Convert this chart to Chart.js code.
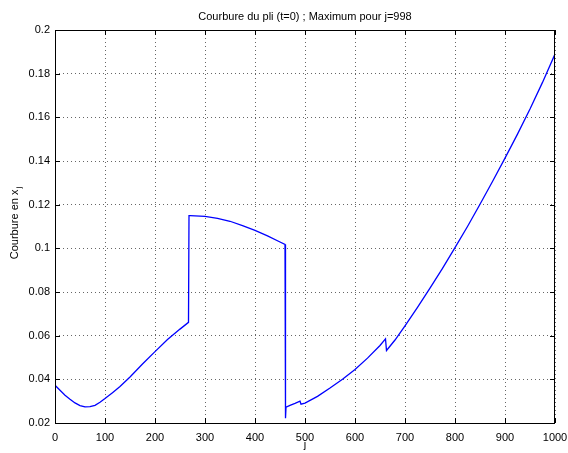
<!DOCTYPE html>
<html>
<head>
<meta charset="utf-8">
<script src="https://cdn.jsdelivr.net/npm/chart.js@4.4.0/dist/chart.umd.min.js"></script>
<style>
  html, body { margin: 0; padding: 0; background: #fff; }
  #wrap { width: 568px; height: 453px; position: relative; }
</style>
</head>
<body>
<div id="wrap"><canvas id="chart"></canvas></div>
<script>
// ── Data ──────────────────────────────────────────────────
const titleText = 'Courbure du pli (t=0) ; Maximum pour j=998';
const xLabel = 'j';
const yLabel = 'Courbure en x';
const yLabelSub = 'j';

const jValues = [
  0, 10, 20, 30, 40, 50, 60, 70, 80, 90, 100, 115, 130, 150, 175, 200, 225, 250, 267,
  268, 270, 300, 325, 350, 375, 400, 425, 450, 460,
  461, 462, 470, 480, 490, 492, 500, 525, 550, 575, 600, 625, 650, 661,
  663, 680, 700, 725, 750, 775, 800, 825, 850, 875, 900, 925, 950, 975, 1000
];
const courbure = [
  0.0373, 0.0350, 0.0327, 0.0309, 0.0292, 0.0280, 0.0274, 0.0275, 0.0281, 0.0295, 0.0312, 0.0339, 0.0367, 0.0411, 0.0470, 0.0527, 0.0582, 0.0630, 0.0661,
  0.1150, 0.1150, 0.1146, 0.1137, 0.1124, 0.1104, 0.1082, 0.1057, 0.1029, 0.1018,
  0.0222, 0.0272, 0.0281, 0.0290, 0.0300, 0.0286, 0.0291, 0.0322, 0.0360, 0.0400, 0.0445, 0.0497, 0.0555, 0.0585,
  0.0532, 0.0580, 0.0645, 0.0730, 0.0818, 0.0908, 0.1003, 0.1100, 0.1202, 0.1306, 0.1413, 0.1523, 0.1638, 0.1760, 0.1890
];

const xTicks = [0, 100, 200, 300, 400, 500, 600, 700, 800, 900, 1000];
const yTicks = [0.02, 0.04, 0.06, 0.08, 0.1, 0.12, 0.14, 0.16, 0.18, 0.2];

const FONT = 'Liberation Sans, Arial, Helvetica, sans-serif';

// ── MATLAB-like frame: box, inward ticks, labels ──────────
const matlabFrame = {
  id: 'matlabFrame',
  afterDraw(chart) {
    const { ctx, chartArea: a, scales } = chart;
    ctx.save();
    ctx.strokeStyle = '#000';
    ctx.lineWidth = 1;
    ctx.setLineDash([]);
    ctx.strokeRect(a.left + 0.5, a.top + 0.5, a.right - a.left - 1, a.bottom - a.top);

    const len = 5;
    ctx.beginPath();
    xTicks.forEach(v => {
      const px = Math.round(scales.x.getPixelForValue(v)) + 0.5;
      ctx.moveTo(px, a.bottom); ctx.lineTo(px, a.bottom - len);
      ctx.moveTo(px, a.top);    ctx.lineTo(px, a.top + len);
    });
    yTicks.forEach(v => {
      const py = Math.round(scales.y.getPixelForValue(v)) + 0.5;
      ctx.moveTo(a.left, py);  ctx.lineTo(a.left + len, py);
      ctx.moveTo(a.right, py); ctx.lineTo(a.right - len, py);
    });
    ctx.stroke();

    ctx.fillStyle = '#000';
    ctx.font = `11px ${FONT}`;
    ctx.textAlign = 'center';
    ctx.textBaseline = 'middle';
    const cx = (a.left + a.right) / 2;
    ctx.fillText(titleText, cx, 17);
    ctx.fillText(xLabel, cx, 445);

    // y label with subscript
    const w1 = ctx.measureText(yLabel).width;
    ctx.font = `8px ${FONT}`;
    const w2 = ctx.measureText(yLabelSub).width;
    const total = w1 + w2 + 1;
    ctx.translate(14, 223);
    ctx.rotate(-Math.PI / 2);
    ctx.textAlign = 'left';
    ctx.textBaseline = 'alphabetic';
    ctx.font = `11px ${FONT}`;
    ctx.fillText(yLabel, -total / 2, 4);
    ctx.font = `8px ${FONT}`;
    ctx.fillText(yLabelSub, -total / 2 + w1 + 1, 7);
    ctx.restore();
  }
};

new Chart(document.getElementById('chart'), {
  type: 'line',
  data: {
    datasets: [{
      data: jValues.map((j, i) => ({ x: j, y: courbure[i] })),
      borderColor: '#0000ff',
      borderWidth: 1.3,
      pointRadius: 0,
      tension: 0,
      fill: false,
    }],
  },
  options: {
    responsive: true,
    maintainAspectRatio: false,
    animation: false,
    layout: { padding: { top: 30, right: 0, left: 0, bottom: 0 } },
    scales: {
      x: {
        type: 'linear',
        min: 0, max: 1000,
        afterBuildTicks: s => { s.ticks = xTicks.map(v => ({ value: v })); },
        afterFit: s => { s.height = 30; s.paddingLeft = 0; s.paddingRight = 13; },
        ticks: { color: '#000', font: { family: FONT, size: 11 }, padding: 8, maxRotation: 0, callback: v => String(v) },
        grid: { color: 'rgba(0,0,0,0.6)', lineWidth: 1, drawTicks: false },
        border: { display: false, dash: [1, 3] },
      },
      y: {
        min: 0.02, max: 0.2,
        afterBuildTicks: s => { s.ticks = yTicks.map(v => ({ value: v })); },
        afterFit: s => { s.width = 55; s.paddingTop = 0; s.paddingBottom = 0; },
        ticks: { color: '#000', font: { family: FONT, size: 11 }, padding: 5, callback: v => String(+v.toFixed(2)) },
        grid: { color: 'rgba(0,0,0,0.6)', lineWidth: 1, drawTicks: false },
        border: { display: false, dash: [1, 3] },
      },
    },
    plugins: {
      legend: { display: false },
      title: { display: false },
      tooltip: { enabled: false },
    },
  },
  plugins: [matlabFrame],
});
</script>
</body>
</html>
